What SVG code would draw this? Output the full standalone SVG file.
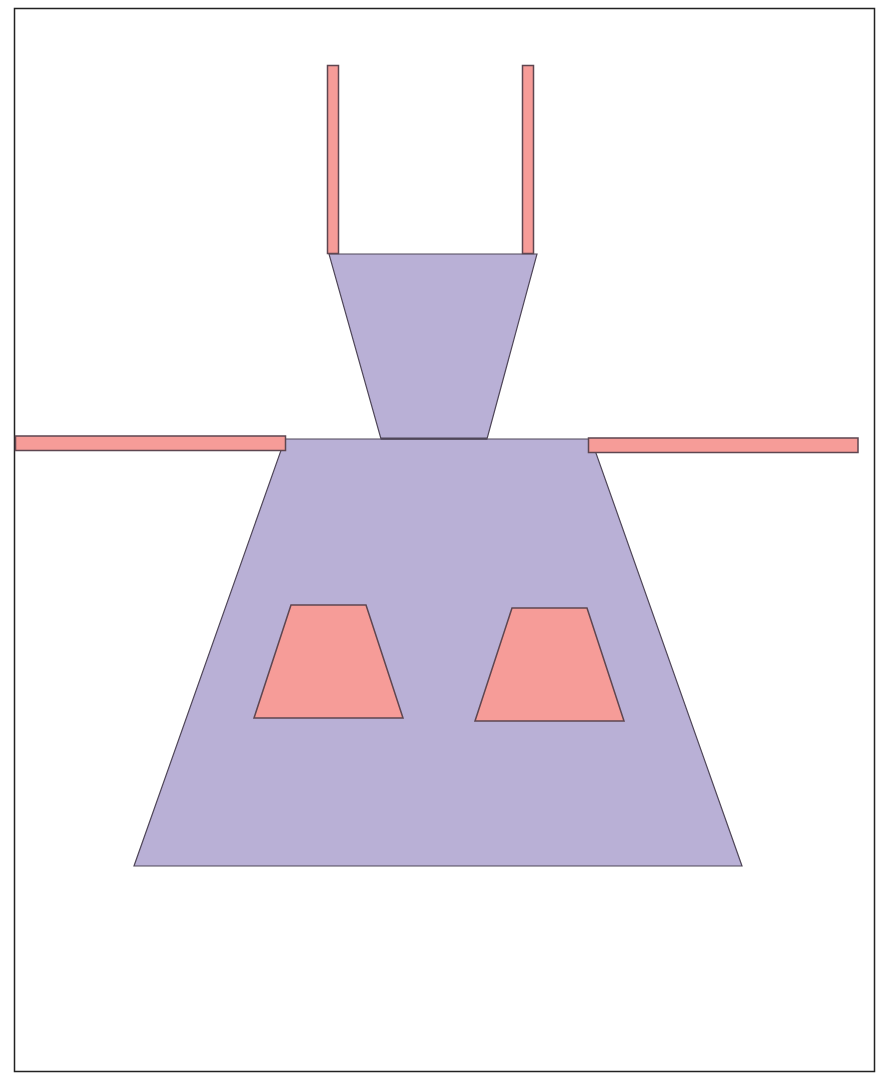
<svg xmlns="http://www.w3.org/2000/svg" width="877" height="1074" viewBox="0 0 877 1074">
<style>
.body{fill:#b9b0d6;stroke:#4f4658;stroke-width:1.2}
.pink{fill:#f69c98;stroke:#5e4650;stroke-width:1.5}
</style>
<rect x="0" y="0" width="877" height="1074" fill="#ffffff"/>
<rect x="14.5" y="8.5" width="860" height="1063" fill="#ffffff" stroke="#222" stroke-width="1.5"/>
<g id="base"><polygon class="body" points="285,439 591,439 742,866 134,866"/></g>
<g id="funnel"><polygon class="body" points="329,254 537,254 487,439 381,439"/><line x1="381" y1="438.5" x2="487" y2="438.5" stroke="#4f4658" stroke-width="2"/></g>
<g id="bar-top-left"><rect class="pink" x="327.5" y="65.5" width="11" height="188"/></g>
<g id="bar-top-right"><rect class="pink" x="522.5" y="65.5" width="11" height="188"/></g>
<g id="bar-left"><rect class="pink" x="15.5" y="436" width="270" height="14.5"/></g>
<g id="bar-right"><rect class="pink" x="588.5" y="438" width="269.5" height="14.5"/></g>
<g id="window-left"><polygon class="pink" points="291,605 366,605 403,718 254,718"/></g>
<g id="window-right"><polygon class="pink" points="512,608 587,608 624,721 475,721"/></g>
</svg>
